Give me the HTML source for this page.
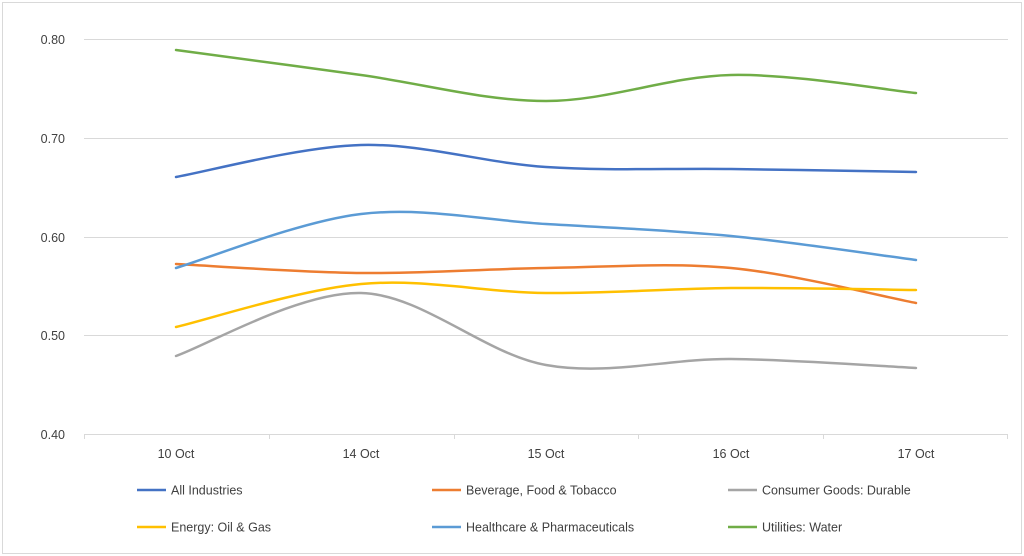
<!DOCTYPE html>
<html><head><meta charset="utf-8"><style>
html,body{margin:0;padding:0;background:#fff;}
svg{display:block;font-family:"Liberation Sans",sans-serif;}
</style></head><body>
<svg id="c" width="1024" height="556" viewBox="0 0 1024 556" xmlns="http://www.w3.org/2000/svg">
<rect x="2.5" y="2.5" width="1019" height="551" fill="#fff" stroke="#d9d9d9"/>
<g stroke="#d9d9d9" stroke-width="1">
<line x1="84" x2="1008" y1="39.5" y2="39.5"/>
<line x1="84" x2="1008" y1="138.5" y2="138.5"/>
<line x1="84" x2="1008" y1="237.5" y2="237.5"/>
<line x1="84" x2="1008" y1="335.5" y2="335.5"/>
<line x1="84" x2="1008" y1="434.5" y2="434.5"/>
<line x1="84.5" x2="84.5" y1="434" y2="439"/>
<line x1="269.5" x2="269.5" y1="434" y2="439"/>
<line x1="454.5" x2="454.5" y1="434" y2="439"/>
<line x1="638.5" x2="638.5" y1="434" y2="439"/>
<line x1="823.5" x2="823.5" y1="434" y2="439"/>
<line x1="1007.5" x2="1007.5" y1="434" y2="439"/>
</g>
<g fill="#404040" font-size="12.5" text-anchor="end">
<text x="65" y="44">0.80</text><text x="65" y="143">0.70</text><text x="65" y="242">0.60</text><text x="65" y="340">0.50</text><text x="65" y="439">0.40</text>
</g>
<g fill="#404040" font-size="12.5" text-anchor="middle">
<text x="176" y="458">10 Oct</text><text x="361" y="458">14 Oct</text><text x="546" y="458">15 Oct</text><text x="731" y="458">16 Oct</text><text x="916" y="458">17 Oct</text>
</g>
<g id="series" fill="none" stroke-width="2.5"></g>
<g font-size="12.5" fill="#404040">
<line x1="137" x2="166" y1="490" y2="490" stroke="#4472c4" stroke-width="2.5"/><text x="171" y="494.5">All Industries</text>
<line x1="432" x2="461" y1="490" y2="490" stroke="#ed7d31" stroke-width="2.5"/><text x="466" y="494.5">Beverage, Food &amp; Tobacco</text>
<line x1="728" x2="757" y1="490" y2="490" stroke="#a5a5a5" stroke-width="2.5"/><text x="762" y="494.5">Consumer Goods: Durable</text>
<line x1="137" x2="166" y1="527" y2="527" stroke="#ffc000" stroke-width="2.5"/><text x="171" y="531.5">Energy: Oil &amp; Gas</text>
<line x1="432" x2="461" y1="527" y2="527" stroke="#5b9bd5" stroke-width="2.5"/><text x="466" y="531.5">Healthcare &amp; Pharmaceuticals</text>
<line x1="728" x2="757" y1="527" y2="527" stroke="#70ad47" stroke-width="2.5"/><text x="762" y="531.5">Utilities: Water</text>
</g>
<script>
var xs=[176,361,546,731,916];
var data=[
["#4472c4",[177,145,167,169,172]],
["#ed7d31",[264,273,268,268,303]],
["#a5a5a5",[356,293,365,359,368]],
["#ffc000",[327,284,293,288,290]],
["#5b9bd5",[268,214,224,236,260]],
["#70ad47",[50,75,101,75,93]]];
var g=document.getElementById("series");
data.forEach(function(s){
 var y=s[1],p=[];for(var i=0;i<5;i++)p.push([xs[i],y[i]]);
 var d="M"+p[0][0]+","+p[0][1];
 for(var i=0;i<4;i++){
  var p0=p[Math.max(i-1,0)],p1=p[i],p2=p[i+1],p3=p[Math.min(i+2,4)];
  var t=1/6;
  var c1=[p1[0]+(p2[0]-p0[0])*t,p1[1]+(p2[1]-p0[1])*t];
  var c2=[p2[0]-(p3[0]-p1[0])*t,p2[1]-(p3[1]-p1[1])*t];
  d+=" C"+c1+" "+c2+" "+p2;
 }
 var e=document.createElementNS("http://www.w3.org/2000/svg","path");
 e.setAttribute("d",d);e.setAttribute("stroke",s[0]);e.setAttribute("stroke-linecap","round");
 g.appendChild(e);
});
</script>
</svg>
</body></html>
